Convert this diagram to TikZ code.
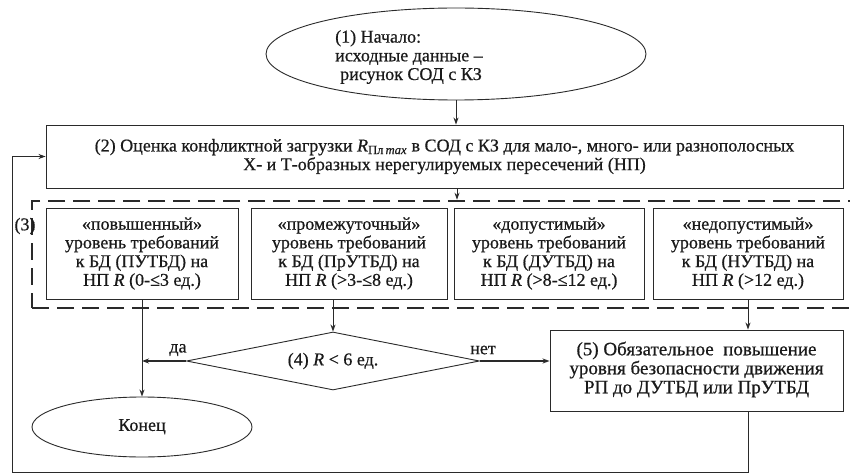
\documentclass[tikz,border=0pt]{standalone}
\usepackage{fontspec}
\setmainfont{Liberation Serif}
\usetikzlibrary{shapes.geometric,arrows.meta}
\definecolor{ink}{HTML}{1A1A1A}
\definecolor{ln}{HTML}{2A2A2A}
\begin{document}
\begin{tikzpicture}[x=1pt,y=-1pt,
  txt/.style={font=\fontsize{18}{18.7}\selectfont\addfontfeature{FakeBold=0.6}, text=ink},
  box/.style={draw=ln, line width=0.9pt, rectangle, inner sep=0pt, align=center, txt},
  oval/.style={draw=ln, line width=0.9pt, ellipse, inner sep=0pt, txt},
  arr/.style={draw=ln, line width=0.9pt, -{Stealth[length=7pt,width=5pt]}},
  dbox/.style={draw=ln, line width=2.6pt, dash pattern=on 17pt off 8pt, rectangle, inner sep=0pt}
]
\clip (0,0) rectangle (850,473);
\fill[white] (0,0) rectangle (850,473);

% (1) start
\node[oval, minimum width=380, minimum height=92] (n1) at (456,54) {};
\node[txt, align=left, anchor=west, inner sep=0pt] (n1t) at (335,57)
  {(1) Начало:\\исходные данные –\\\hspace{5pt}рисунок СОД с КЗ};

% (2)
\node[box, minimum width=797, minimum height=63] (n2) at (444.5,156.5)
  {(2) Оценка конфликтной загрузки \textit{R}\textsubscript{Пл\,\textit{max}} в СОД с КЗ для мало-, много- или разнополосных\\Х- и Т-образных нерегулируемых пересечений (НП)};

% (3) dashed group
\node[dbox, minimum width=838, minimum height=107] (n3) at (451,254.5) {};
\node[txt, inner sep=0pt] (n3l) at (25,226) {(3)};

\node[box, minimum width=192, minimum height=91] (nA) at (142,253.5)
  {«повышенный»\\уровень требований\\к БД (ПУТБД) на\\НП \textit{R} (0-≤3 ед.)};
\node[box, minimum width=196, minimum height=91] (nB) at (349,253.5)
  {«промежуточный»\\уровень требований\\к БД (ПрУТБД) на\\НП \textit{R} (>3-≤8 ед.)};
\node[box, minimum width=190, minimum height=91] (nC) at (549,253.5)
  {«допустимый»\\уровень требований\\к БД (ДУТБД) на\\НП \textit{R} (>8-≤12 ед.)};
\node[box, minimum width=190, minimum height=91] (nD) at (748,253.5)
  {«недопустимый»\\уровень требований\\к БД (НУТБД) на\\НП \textit{R} (>12 ед.)};

% (4) decision
\node[draw=ln, line width=0.9pt, diamond, aspect=5, inner sep=0pt, minimum width=293, minimum height=58, txt] (n4) at (333,361)
  {(4) \textit{R} < 6 ед.};

% (5)
\node[box, minimum width=293, minimum height=81, font=\fontsize{19}{19}\selectfont\addfontfeature{FakeBold=0.6}] (n5) at (696.5,370.5)
  {(5) Обязательное\ \ повышение\\уровня безопасности движения\\РП до ДУТБД или ПрУТБД\rule[-6pt]{0pt}{6pt}};

% end
\node[oval, minimum width=220, minimum height=60] (n6) at (142,427) {Конец\rule[-4pt]{0pt}{4pt}};

\node[txt, inner sep=0pt] (lda) at (178,350) {да};
\node[txt, inner sep=0pt] (lnet) at (483,350) {нет};

\coordinate (c23) at (457,0);
\coordinate (lb) at (12,472);

% connectors
\draw[arr] (n1.south) -- (n1.south |- n2.north);
\draw[arr] (n2.south -| c23) -- (n3.north -| c23);
\draw[arr] (nA.south) -- (n6.north);
\draw[arr] (nB.south -| n4.north) -- (n4.north);
\draw[arr] (nD.south) -- (nD.south |- n5.north);
\draw[arr, line width=1.6pt] (n4.west) -- (n4.west -| n6.north);
\draw[arr, line width=1.6pt] (n4.east) -- (n4.east -| n5.west);
\draw[arr] (nD.south |- n5.south) |- (lb) |- (n2.west);
\end{tikzpicture}
\end{document}
